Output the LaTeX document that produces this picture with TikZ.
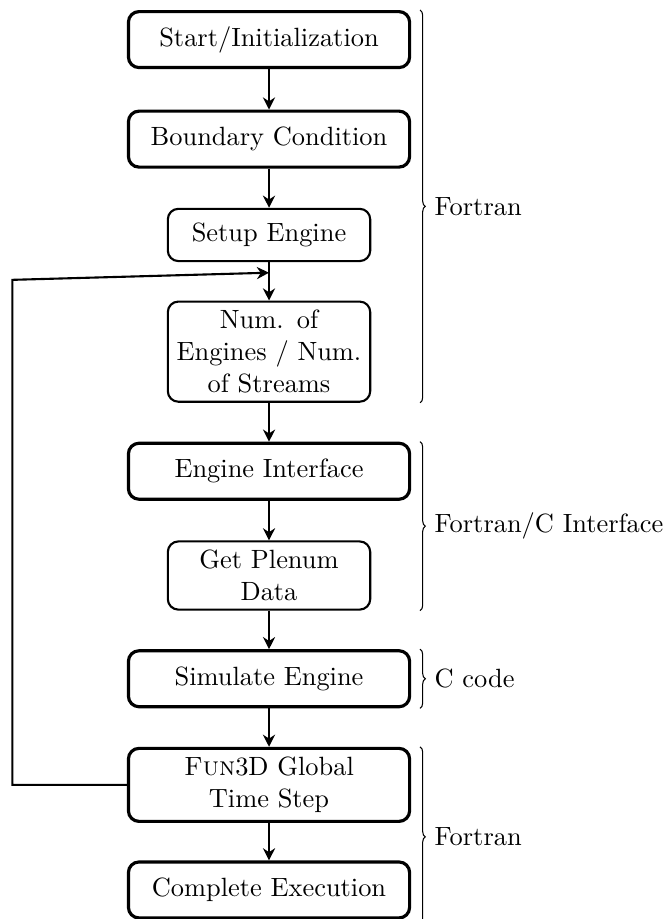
\documentclass[tikz,border=0pt]{standalone}
\usetikzlibrary{arrows.meta,positioning,decorations.pathreplacing}

\begin{document}
\begin{tikzpicture}[x=1pt,y=1pt,
  blk/.style={draw,very thick,rounded corners=4pt,align=center,minimum width=106.5pt,minimum height=21.2pt},
  sub/.style={draw,thick,rounded corners=4pt,align=center,text width=70pt,minimum height=19.8pt},
  ed/.style={-{Stealth[length=4.6pt,width=4.6pt]},thick},
  brc/.style={decorate,decoration={brace,amplitude=2pt}},
  lng/.style={right=2pt}]
\useasboundingbox (0,0) rectangle (252.3,348.1);
% main column
\node[blk] (st) at (101.9,333.1) {Start/Initialization};
\node[blk] (bc) at (101.9,295.4) {Boundary Condition};
\node[sub] (se) at (101.9,259.1) {Setup Engine};
\node[sub] (ne) at (101.9,214.9) {Num. of Engines / Num. of Streams};
\node[blk] (ei) at (101.9,169.6) {Engine Interface};
\node[sub] (gp) at (101.9,130.1) {Get Plenum Data};
\node[blk] (si) at (101.9,91.0) {Simulate Engine};
\node[blk] (gt) at (101.9,50.8) {\textsc{Fun}3D Global\\Time Step};
\node[blk] (ce) at (101.9,11.0) {Complete Execution};
\draw[ed] (st) -- (bc);
\draw[ed] (bc) -- (se);
\draw[ed] (se) -- (ne);
\draw[ed] (ne) -- (ei);
\draw[ed] (ei) -- (gp);
\draw[ed] (gp) -- (si);
\draw[ed] (si) -- (gt);
\draw[ed] (gt) -- (ce);
% time step loop back
\coordinate (lp) at (4.7,242.1);
\coordinate (jn) at (101.9,244.8);
\draw[ed] (gt.west) -| (lp) -- (jn);
% language braces
\coordinate (bx) at (159.1,0);
\draw[brc] (bx |- st.north) -- (bx |- ne.south) node[midway,lng] {Fortran};
\draw[brc] (bx |- ei.north) -- (bx |- gp.south) node[midway,lng] {Fortran/C Interface};
\draw[brc] (bx |- si.north) -- (bx |- si.south) node[midway,lng] {C code};
\draw[brc] (bx |- gt.north) -- (159.1,-3) node[midway,lng] {Fortran};
\end{tikzpicture}
\end{document}
